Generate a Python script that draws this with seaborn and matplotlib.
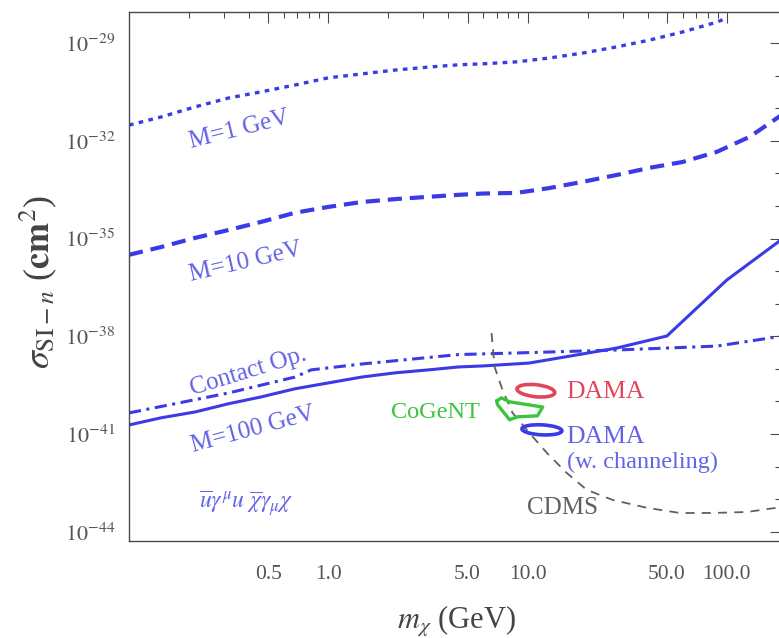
import matplotlib
matplotlib.use("Agg")
import matplotlib.pyplot as plt
import matplotlib.ticker as mticker
import matplotlib.transforms as mtransforms
from matplotlib.patches import Ellipse
import numpy as np
import seaborn as sns

# ---------------- data (sigma as log10) ----------------
m1_mass = [0.1, 0.145, 0.215, 0.315, 0.46, 0.68, 1.0, 1.47, 2.17, 3.18, 4.5,
           5.94, 8.81, 12.9, 18.9, 28.0, 41.0, 60.1, 89.1, 100.0]
m1_logsig = [-31.52, -31.27, -30.96, -30.69, -30.50, -30.29, -30.07, -29.95, -29.83, -29.74, -29.67,
             -29.64, -29.58, -29.46, -29.31, -29.12, -28.91, -28.66, -28.36, -28.23]

m10_mass = [0.1, 0.145, 0.215, 0.315, 0.46, 0.68, 1.0, 1.47, 2.17, 3.18, 4.5,
            5.94, 8.81, 12.9, 18.9, 28.0, 41.0, 60.1, 89.1, 130.0, 187.0]
m10_logsig = [-35.50, -35.26, -34.98, -34.74, -34.49, -34.21, -34.03, -33.88, -33.79, -33.72, -33.66,
              -33.62, -33.60, -33.45, -33.26, -33.05, -32.83, -32.65, -32.34, -31.88, -31.22]

m100_mass = [0.1, 0.145, 0.215, 0.315, 0.46, 0.68, 1.0, 1.47, 2.17, 3.18, 4.5,
             5.94, 10.2, 18.9, 28.0, 50.0, 100.0, 187.0]
m100_logsig = [-40.72, -40.50, -40.32, -40.07, -39.86, -39.61, -39.43, -39.25, -39.12, -39.03, -38.94,
               -38.91, -38.82, -38.54, -38.36, -37.99, -36.27, -35.04]

contact_mass = [0.1, 0.315, 0.68, 0.82, 1.47, 4.5, 10.2, 28.0, 50.0, 89.0, 187.0]
contact_logsig = [-40.35, -39.74, -39.25, -39.03, -38.85, -38.56, -38.50, -38.42, -38.36, -38.30, -38.00]

cdms_mass = [6.59, 6.83, 7.48, 8.4, 10.2, 12.5, 15.7, 19.8, 26.7, 39.6, 58.0, 85.0, 126.0, 187.0]
cdms_logsig = [-37.90, -38.94, -39.64, -40.35, -40.96, -41.58, -42.19, -42.71, -43.02, -43.26,
               -43.42, -43.42, -43.39, -43.24]

cogent_mass = [6.99, 7.40, 8.12, 11.9, 11.2, 8.91, 8.12, 7.07, 6.99]
cogent_logsig = [-39.98, -39.89, -40.01, -40.17, -40.44, -40.47, -40.56, -40.10, -39.98]

dama_center = (11.0, -39.67)
dama_ch_center = (11.8, -40.87)

x_ticks = [0.5, 1.0, 5.0, 10.0, 50.0, 100.0]
x_tick_labels = ["0.5", "1.0", "5.0", "10.0", "50.0", "100.0"]
y_tick_exps = [-29, -32, -35, -38, -41, -44]

# ---------------- style ----------------
LINE_BLUE = "#3a3ae6"
TEXT_BLUE = "#6262e6"
RED = "#e0485a"
GREEN = "#3cc43c"
GRAY = "#606060"
FRAME = "#4a4a4a"

sns.set_theme(style="white")
plt.rcParams["font.family"] = ["Liberation Serif", "DejaVu Serif"]
plt.rcParams["mathtext.fontset"] = "stix"

W, H = 779, 638
fig = plt.figure(figsize=(W / 100, H / 100), dpi=100)
fig.patch.set_facecolor("white")
# frame: left 129px, top 12px, bottom 541px, right edge just outside the picture
ax = fig.add_axes([129 / W, 1 - 541 / H, (781 - 129) / W, (541 - 12) / H])
ax.set_xscale("log")
ax.set_yscale("log")
ax.set_facecolor("white")


def curve(mass, logsig, **kw):
    sns.lineplot(x=np.array(mass), y=10.0 ** np.array(logsig), ax=ax,
                 estimator=None, sort=False, **kw)


curve(m1_mass, m1_logsig, color=LINE_BLUE, lw=2.4, linestyle=(0, (1.4, 1.6)))
curve(m10_mass, m10_logsig, color=LINE_BLUE, lw=3.0, linestyle=(0, (3.4, 1.9)))
curve(contact_mass, contact_logsig, color=LINE_BLUE, lw=2.2, linestyle=(0, (4.0, 1.8, 1.0, 1.8)))
curve(m100_mass, m100_logsig, color=LINE_BLUE, lw=2.2)
curve(cdms_mass, cdms_logsig, color=GRAY, lw=1.3, linestyle=(0, (5, 4)))
curve(cogent_mass, cogent_logsig, color=GREEN, lw=2.4)

ax.set_xlim(0.1, 10 ** ((781 - 329) / 199))
ax.set_ylim(10 ** -44.28, 10 ** -28.05)

# DAMA regions: fixed-size rings placed at data positions
for (cx, cy), col, wd, ht, ang in [(dama_center, RED, 0.38, 0.12, -6),
                                   (dama_ch_center, LINE_BLUE, 0.40, 0.10, -3)]:
    trans = fig.dpi_scale_trans + mtransforms.ScaledTranslation(cx, 10.0 ** cy, ax.transData)
    ax.add_patch(Ellipse((0, 0), width=wd, height=ht, angle=ang, transform=trans,
                         fill=False, ec=col, lw=2.6, zorder=4))

# ---------------- labels inside the frame ----------------
lbl = dict(color=TEXT_BLUE, fontsize=18, ha="center", va="center", rotation_mode="anchor")
ax.text(0.357, 10 ** -31.67, "M=1 GeV", rotation=14, **lbl)
ax.text(0.383, 10 ** -35.72, "M=10 GeV", rotation=13, **lbl)
ax.text(0.396, 10 ** -39.09, "Contact Op.", rotation=17, **lbl)
ax.text(0.42, 10 ** -40.87, "M=100 GeV", rotation=15, **lbl)
ax.text(0.387, 10 ** -43.11, r"$\overline{u}\gamma^{\mu}u\ \overline{\chi}\gamma_{\mu}\chi$",
        color=TEXT_BLUE, fontsize=17, ha="center", va="center")
ax.text(5.74, 10 ** -40.35, "CoGeNT", color=GREEN, fontsize=17.5, ha="right", va="center")
ax.text(15.7, 10 ** -39.71, "DAMA", color=RED, fontsize=18.5, ha="left", va="center")
ax.text(15.7, 10 ** -41.09, "DAMA", color=TEXT_BLUE, fontsize=18.5, ha="left", va="center")
ax.text(15.7, 10 ** -41.88, "(w. channeling)", color=TEXT_BLUE, fontsize=17.5, ha="left", va="center")
ax.text(9.89, 10 ** -43.26, "CDMS", color=GRAY, fontsize=18, ha="left", va="center")

# ---------------- axes, ticks ----------------
ax.xaxis.set_major_locator(mticker.FixedLocator(x_ticks))
ax.xaxis.set_major_formatter(mticker.FixedFormatter(x_tick_labels))
ax.xaxis.set_minor_locator(mticker.LogLocator(base=10, subs=np.arange(2, 10), numticks=20))
ax.xaxis.set_minor_formatter(mticker.NullFormatter())

ax.yaxis.set_major_locator(mticker.FixedLocator([10.0 ** e for e in y_tick_exps]))
ax.yaxis.set_major_formatter(mticker.FixedFormatter([f"$10^{{{e}}}$" for e in y_tick_exps]))
ax.yaxis.set_minor_locator(mticker.FixedLocator([10.0 ** e for e in range(-44, -27)]))
ax.yaxis.set_minor_formatter(mticker.NullFormatter())

ax.tick_params(which="both", direction="in", top=True, right=True, colors=FRAME, width=0.8)
ax.tick_params(which="major", length=8)
ax.tick_params(which="minor", length=4)
ax.tick_params(axis="x", which="major", labelsize=15.5, labelcolor="#555555", pad=17)
ax.tick_params(axis="y", which="major", labelsize=16, labelcolor="#555555", pad=10)

for sp in ax.spines.values():
    sp.set_visible(True)
    sp.set_color(FRAME)
    sp.set_linewidth(1.0)

ax.set_xlabel(r"$m_{\chi}$ (GeV)", fontsize=22, color="#444444")
ax.xaxis.set_label_coords((457 - 129) / 652, -0.119)
ax.set_ylabel(r"$\sigma_{\mathrm{SI}-n}$ ($\mathbf{cm}^{2}$)", fontsize=26, color="#444444")
ax.yaxis.set_label_coords(-0.107, 0.49)

fig.savefig("out.png", dpi=100, facecolor="white")
